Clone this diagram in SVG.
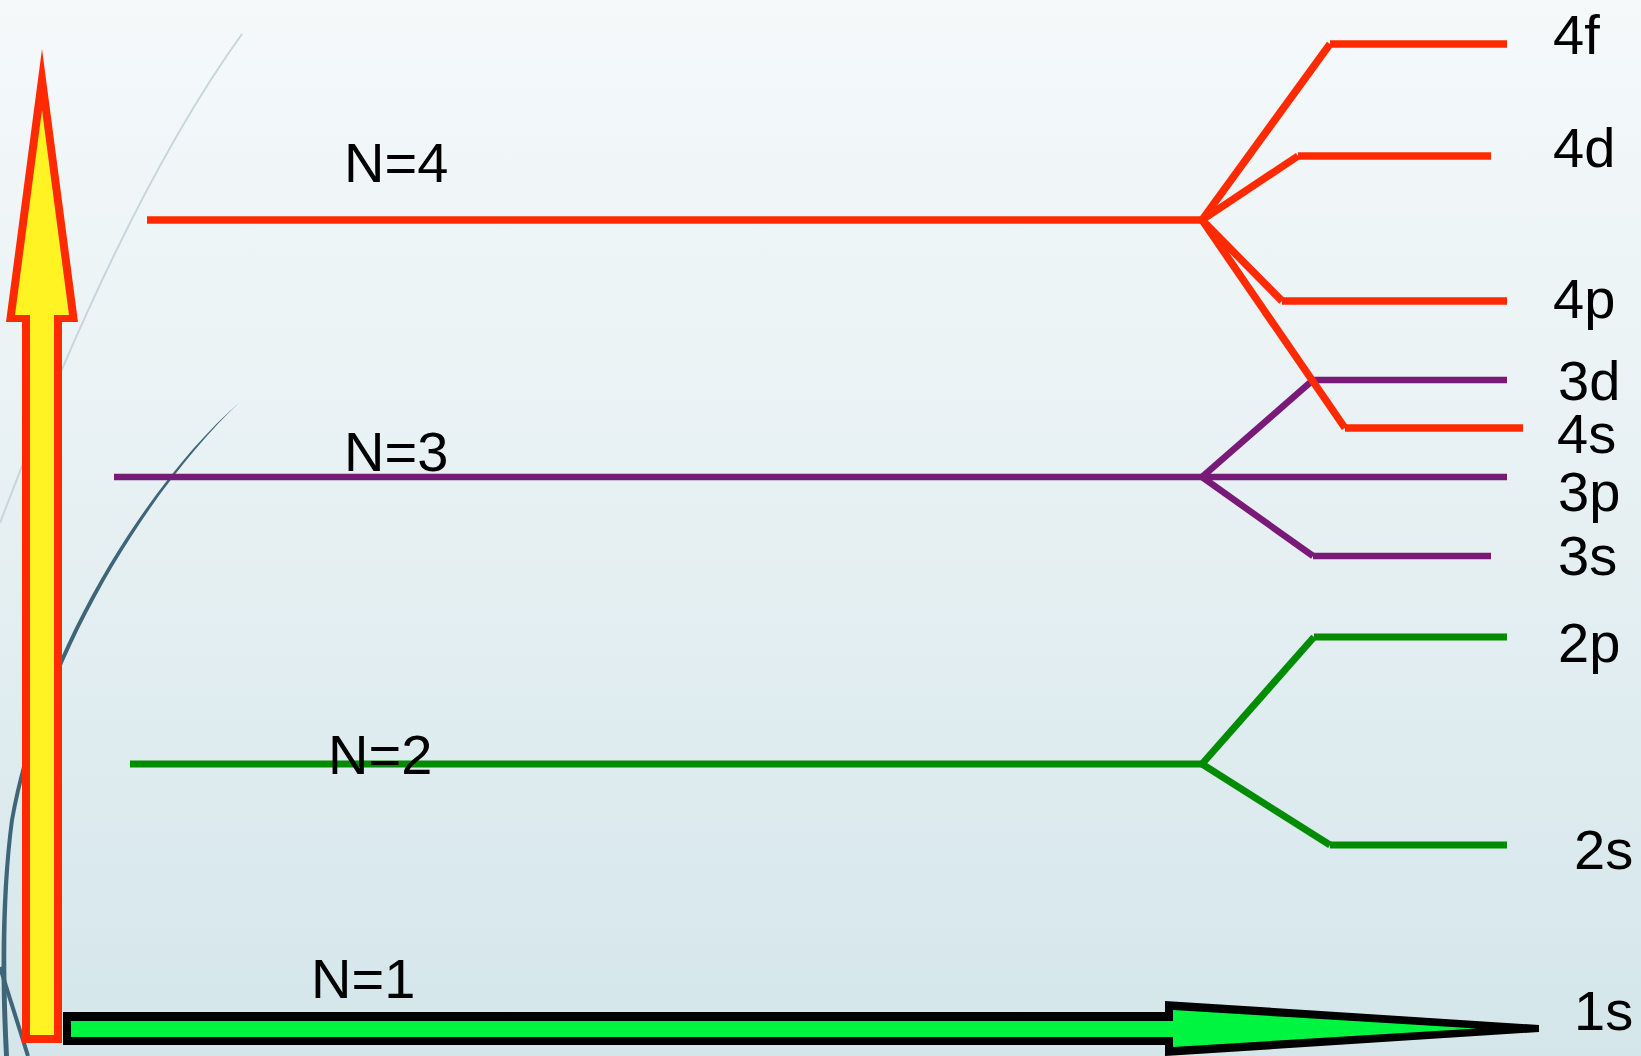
<svg xmlns="http://www.w3.org/2000/svg" width="1641" height="1056" viewBox="0 0 1641 1056">
  <defs>
    <linearGradient id="bg" x1="0" y1="0" x2="0" y2="1">
      <stop offset="0" stop-color="#f5f9fa"/>
      <stop offset="0.5" stop-color="#e6f0f3"/>
      <stop offset="1" stop-color="#d4e6ea"/>
    </linearGradient>
    <style>
      .lbl { font-family: "Liberation Sans", Arial, sans-serif; font-size: 56px; fill: #000; }
      .red { stroke: #ff2a00; stroke-width: 7.5; fill: none; stroke-linecap: butt; }
      .pur { stroke: #7a1a78; stroke-width: 6.5; fill: none; stroke-linecap: butt; }
      .grn { stroke: #008c00; stroke-width: 7; fill: none; stroke-linecap: butt; }
    </style>
  </defs>

  <!-- background -->
  <rect x="0" y="0" width="1641" height="1056" fill="url(#bg)"/>

  <!-- decorative swooshes -->
  <g id="swooshes">
    <path d="M242,34 C180,120 100,260 0,523" stroke="#c6d6dc" stroke-width="2" fill="none"/>
    <path d="M240,402 C150,480 40,650 10,820 C2,880 -1,960 4,1056 L9,1056 C4,960 6,880 14,820 C44,652 154,482 240,402 Z" fill="#3f6579"/>
    <path d="M0,967 L28,1056" stroke="#3f6579" stroke-width="4" fill="none"/>
  </g>

  <!-- level lines and sublevels -->
  <g id="level-n2">
    <line class="grn" x1="130" y1="764" x2="1204" y2="764"/>
    <line class="grn" x1="1314" y1="637" x2="1507" y2="637"/>
    <line class="grn" x1="1330" y1="845" x2="1507" y2="845"/>
    <text class="lbl" x="328" y="774">N=2</text>
    <text class="lbl" x="1558" y="662">2p</text>
    <text class="lbl" x="1574" y="869">2s</text>
  </g>

  <g id="level-n3">
    <line class="pur" x1="114" y1="477" x2="1507" y2="477"/>
    <line class="pur" x1="1313" y1="380" x2="1507" y2="380"/>
    <line class="pur" x1="1313" y1="556" x2="1491" y2="556"/>
    <text class="lbl" x="344" y="471">N=3</text>
    <text class="lbl" x="1558" y="400">3d</text>
    <text class="lbl" x="1558" y="511">3p</text>
    <text class="lbl" x="1558" y="575">3s</text>
  </g>

  <g id="level-n4">
    <line class="red" x1="147" y1="220" x2="1204" y2="220"/>
    <line class="red" x1="1330" y1="44" x2="1507" y2="44"/>
    <line class="red" x1="1298" y1="156" x2="1491" y2="156"/>
    <line class="red" x1="1282" y1="301" x2="1507" y2="301"/>
    <line class="red" x1="1345" y1="428" x2="1523" y2="428"/>
    <text class="lbl" x="344" y="182">N=4</text>
    <text class="lbl" x="1553" y="54">4f</text>
    <text class="lbl" x="1553" y="167">4d</text>
    <text class="lbl" x="1553" y="318">4p</text>
    <text class="lbl" x="1557" y="453">4s</text>
  </g>

  <!-- splitting connectors -->
  <g id="connectors">
    <line class="grn" x1="1202" y1="764" x2="1314" y2="637"/>
    <line class="grn" x1="1202" y1="764" x2="1330" y2="845"/>
    <line class="pur" x1="1202" y1="477" x2="1313" y2="380"/>
    <line class="pur" x1="1202" y1="477" x2="1313" y2="556"/>
    <line class="red" x1="1202" y1="220" x2="1330" y2="44"/>
    <line class="red" x1="1202" y1="220" x2="1298" y2="156"/>
    <line class="red" x1="1202" y1="220" x2="1282" y2="301"/>
    <line class="red" x1="1202" y1="220" x2="1345" y2="428"/>
  </g>

  <!-- vertical energy arrow -->
  <g id="energy-arrow">
    <polygon points="42,49 78,322 62,322 62,1043 22,1043 22,322 6,322" fill="#ff2a00"/>
    <polygon points="42,110 69,315 54,315 54,1035 30,1035 30,315 15,315" fill="#fff323"/>
  </g>

  <!-- horizontal 1s arrow -->
  <g id="ground-arrow">
    <polygon points="63,1012 1165,1012 1165,1001 1539,1025 1539,1032 1165,1056 1165,1045 63,1045" fill="#000"/>
    <polygon points="71,1021 1173,1021 1173,1010 1477,1028.5 1173,1047 1173,1037 71,1037" fill="#00f540"/>
    <text class="lbl" x="311" y="998">N=1</text>
    <text class="lbl" x="1574" y="1030">1s</text>
  </g>
</svg>
